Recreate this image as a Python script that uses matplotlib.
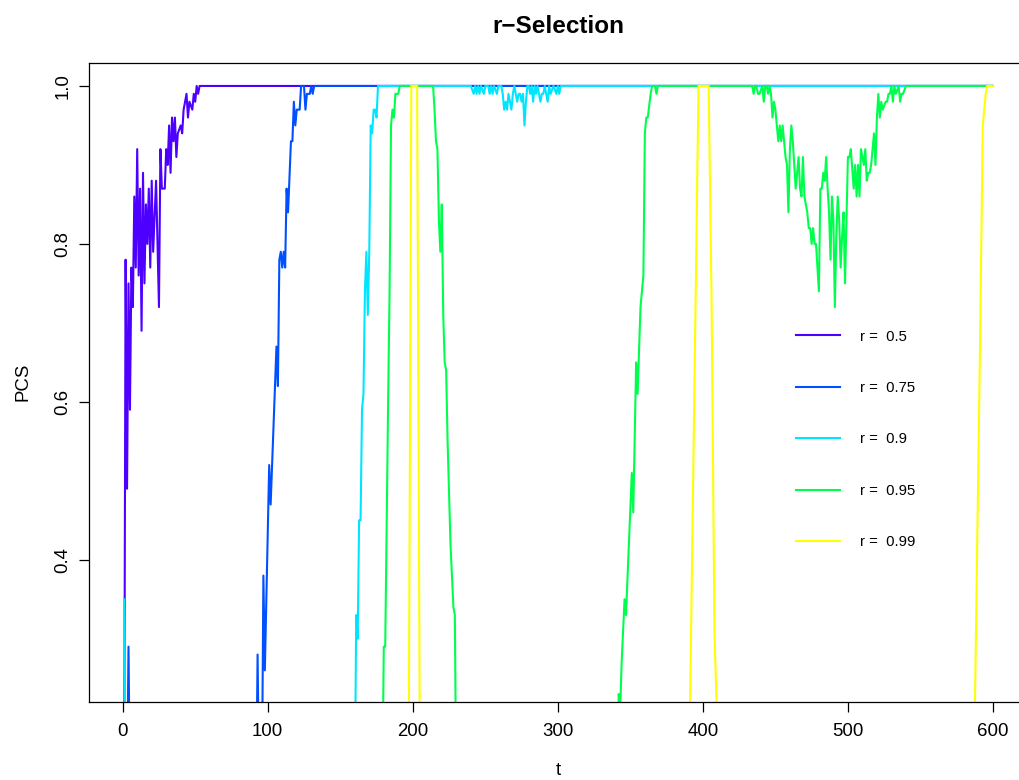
import matplotlib
matplotlib.use("Agg")
import matplotlib.pyplot as plt

plt.rcParams['font.family'] = ['Liberation Sans', 'DejaVu Sans']

# values (t, PCS); values below the axis are clipped anyway
r_values = [0.5, 0.75, 0.9, 0.95, 0.99]
colors = ['#4D00FF', '#0050FF', '#00E5FF', '#00FF4D', '#FFFF00']

t_050 = [1, 2, 3, 4, 5, 6, 7, 8, 9, 10, 11, 12, 13, 14, 15, 16, 17, 18, 19, 20,
         21, 23, 25, 26, 27, 29, 30, 31, 32, 33, 34, 35, 36, 37, 38, 40, 41, 42,
         44, 45, 46, 48, 49, 50, 51, 52, 53, 600]
pcs_050 = [0.10, 0.78, 0.49, 0.75, 0.59, 0.77, 0.72, 0.86, 0.77, 0.92, 0.76, 0.87,
           0.69, 0.89, 0.75, 0.85, 0.80, 0.87, 0.77, 0.88, 0.79, 0.88, 0.72, 0.92,
           0.87, 0.87, 0.92, 0.90, 0.95, 0.89, 0.96, 0.93, 0.96, 0.91, 0.94, 0.95,
           0.94, 0.97, 0.99, 0.96, 0.98, 0.97, 0.99, 0.98, 1.0, 0.99, 1.0, 1.0]

t_075 = [1, 3, 4, 5, 92, 93, 94, 96, 97, 98, 101, 102, 106, 107, 108, 109, 110,
         111, 112, 113, 114, 116, 117, 118, 119, 120, 121, 122, 123, 125, 126, 127,
         129, 130, 131, 132, 600]
pcs_075 = [0.10, 0.10, 0.29, 0.10, 0.10, 0.28, 0.12, 0.12, 0.38, 0.26, 0.52, 0.47,
           0.67, 0.62, 0.78, 0.79, 0.77, 0.79, 0.77, 0.87, 0.84, 0.93, 0.93, 0.98,
           0.95, 0.97, 0.97, 0.97, 1.0, 1.0, 0.97, 0.99, 0.99, 1.0, 0.99, 1.0, 1.0]

t_090 = [1, 2, 160, 161, 162, 163, 164, 165, 166, 167, 168, 169, 170, 171, 172,
         173, 174, 175, 176, 240, 242, 243, 244, 245, 246, 247, 249, 250, 252, 253,
         254, 255, 256, 258, 259, 261, 262, 263, 264, 265, 266, 267, 268, 269, 270,
         271, 272, 273, 274, 275, 276, 277, 278, 279, 280, 281, 282, 283, 284, 285,
         286, 288, 289, 290, 291, 293, 294, 295, 297, 299, 300, 301, 302, 600]
pcs_090 = [0.35, 0.10, 0.10, 0.33, 0.30, 0.45, 0.45, 0.59, 0.61, 0.74, 0.79, 0.71,
           0.79, 0.95, 0.94, 0.97, 0.97, 0.96, 1.0, 1.0, 0.99, 1.0, 0.99, 1.0,
           0.99, 1.0, 0.99, 1.0, 1.0, 0.99, 1.0, 0.99, 1.0, 0.99, 1.0, 1.0, 0.99,
           0.97, 0.98, 0.97, 0.99, 0.98, 0.97, 0.99, 1.0, 0.99, 0.98, 0.99, 0.99,
           0.98, 0.99, 0.95, 0.98, 1.0, 1.0, 0.99, 1.0, 0.98, 1.0, 0.99, 1.0, 0.98,
           0.99, 0.99, 1.0, 0.98, 1.0, 0.99, 1.0, 0.99, 1.0, 0.99, 1.0, 1.0]

t_095 = [1, 179, 180, 181, 182, 183, 184, 185, 186, 187, 188, 190, 191, 214, 215,
         216, 217, 218, 219, 220, 221, 222, 223, 224, 226, 227, 228, 229, 230, 341,
         342, 343, 344, 346, 347, 351, 352, 354, 355, 357, 359, 360, 361, 362, 364,
         365, 367, 368, 369, 434, 435, 436, 437, 438, 439, 441, 442, 443, 444, 445,
         446, 447, 448, 449, 450, 451, 452, 453, 454, 455, 456, 457, 458, 459, 460,
         461, 462, 464, 465, 466, 467, 468, 469, 470, 472, 473, 474, 475, 476, 477,
         478, 480, 481, 482, 483, 484, 485, 486, 487, 488, 489, 490, 491, 492, 493,
         494, 495, 496, 497, 498, 500, 501, 502, 504, 505, 506, 507, 508, 509, 510,
         511, 512, 513, 514, 515, 516, 518, 519, 520, 521, 522, 523, 524, 526, 527,
         528, 529, 530, 531, 532, 533, 535, 536, 537, 538, 540, 600]
pcs_095 = [0.10, 0.10, 0.29, 0.29, 0.45, 0.60, 0.74, 0.95, 0.97, 0.96, 0.99, 0.99,
           1.0, 1.0, 0.97, 0.93, 0.92, 0.83, 0.79, 0.85, 0.71, 0.65, 0.64, 0.55,
           0.42, 0.38, 0.34, 0.33, 0.10, 0.10, 0.23, 0.21, 0.27, 0.35, 0.33, 0.51,
           0.46, 0.65, 0.61, 0.72, 0.76, 0.94, 0.96, 0.96, 0.99, 1.0, 1.0, 0.99,
           1.0, 1.0, 0.99, 1.0, 1.0, 0.99, 0.99, 1.0, 0.98, 1.0, 1.0, 0.99, 1.0,
           0.99, 0.96, 0.98, 0.97, 0.95, 0.93, 0.95, 0.93, 0.95, 0.93, 0.91, 0.90,
           0.84, 0.92, 0.95, 0.93, 0.87, 0.89, 0.91, 0.87, 0.86, 0.91, 0.86, 0.84,
           0.82, 0.82, 0.80, 0.82, 0.80, 0.80, 0.74, 0.87, 0.87, 0.89, 0.88, 0.91,
           0.87, 0.84, 0.78, 0.86, 0.83, 0.72, 0.81, 0.86, 0.83, 0.77, 0.81, 0.84,
           0.75, 0.91, 0.91, 0.92, 0.87, 0.90, 0.86, 0.90, 0.86, 0.92, 0.91, 0.90,
           0.92, 0.88, 0.89, 0.89, 0.90, 0.94, 0.90, 0.96, 0.99, 0.96, 0.98, 0.97,
           0.98, 0.98, 0.99, 0.99, 1.0, 0.98, 1.0, 0.99, 1.0, 0.98, 0.99, 0.99,
           1.0, 1.0]

t_099 = [1, 197, 199, 203, 205, 391, 397, 404, 406, 408, 410, 411, 587, 591, 593,
         595, 596, 600]
pcs_099 = [0.05, 0.05, 1.0, 1.0, 0.10, 0.19, 1.0, 1.0, 0.73, 0.31, 0.18, 0.05,
           0.14, 0.66, 0.95, 0.99, 1.0, 1.0]

series_t = [t_050, t_075, t_090, t_095, t_099]
series_pcs = [pcs_050, pcs_075, pcs_090, pcs_095, pcs_099]

fig = plt.figure(figsize=(10.19, 7.8), dpi=100)
# plot box runs past the right edge, like the reference
ax = fig.add_axes([89.4 / 1019, 1 - 701.7 / 780, 938.3 / 1019, 639.2 / 780])

for r, c, t, p in zip(r_values, colors, series_t, series_pcs):
    ax.plot(t, p, color=c, lw=1.5, label=f"r =  {r}")

ax.set_xlim(-22.96, 623.96)
ax.set_ylim(0.2203, 1.0297)
ax.set_xticks([0, 100, 200, 300, 400, 500, 600])
ax.set_yticks([0.4, 0.6, 0.8, 1.0])
ax.set_yticklabels(['0.4', '0.6', '0.8', '1.0'])

for s in ax.spines.values():
    s.set_linewidth(0.9)
ax.tick_params(axis='both', direction='out', length=7.2, width=0.9, labelsize=13.4)
ax.tick_params(axis='x', pad=7.9)
ax.tick_params(axis='y', pad=5.8)
for lbl in ax.get_yticklabels():
    lbl.set_rotation(90)
    lbl.set_va('center')

fig.text(558.5 / 1019, 1 - 33.3 / 780, "r\u2212Selection", ha='center', va='baseline',
         fontsize=17.5, fontweight='bold')
fig.text(558.5 / 1019, 1 - 775 / 780, "t", ha='center', va='baseline', fontsize=13.4)
fig.text(22.8 / 1019, 1 - 382 / 780, "PCS", ha='center', va='center', rotation=90,
         fontsize=13.4)

ax.legend(loc='upper left', bbox_to_anchor=(796 / 1019, 1 - 329.5 / 780),
          bbox_transform=fig.transFigure, frameon=False, fontsize=10.7,
          handlelength=2.95, handletextpad=1.34, labelspacing=2.52,
          borderpad=0, borderaxespad=0)

fig.savefig("out.png", dpi=100)
